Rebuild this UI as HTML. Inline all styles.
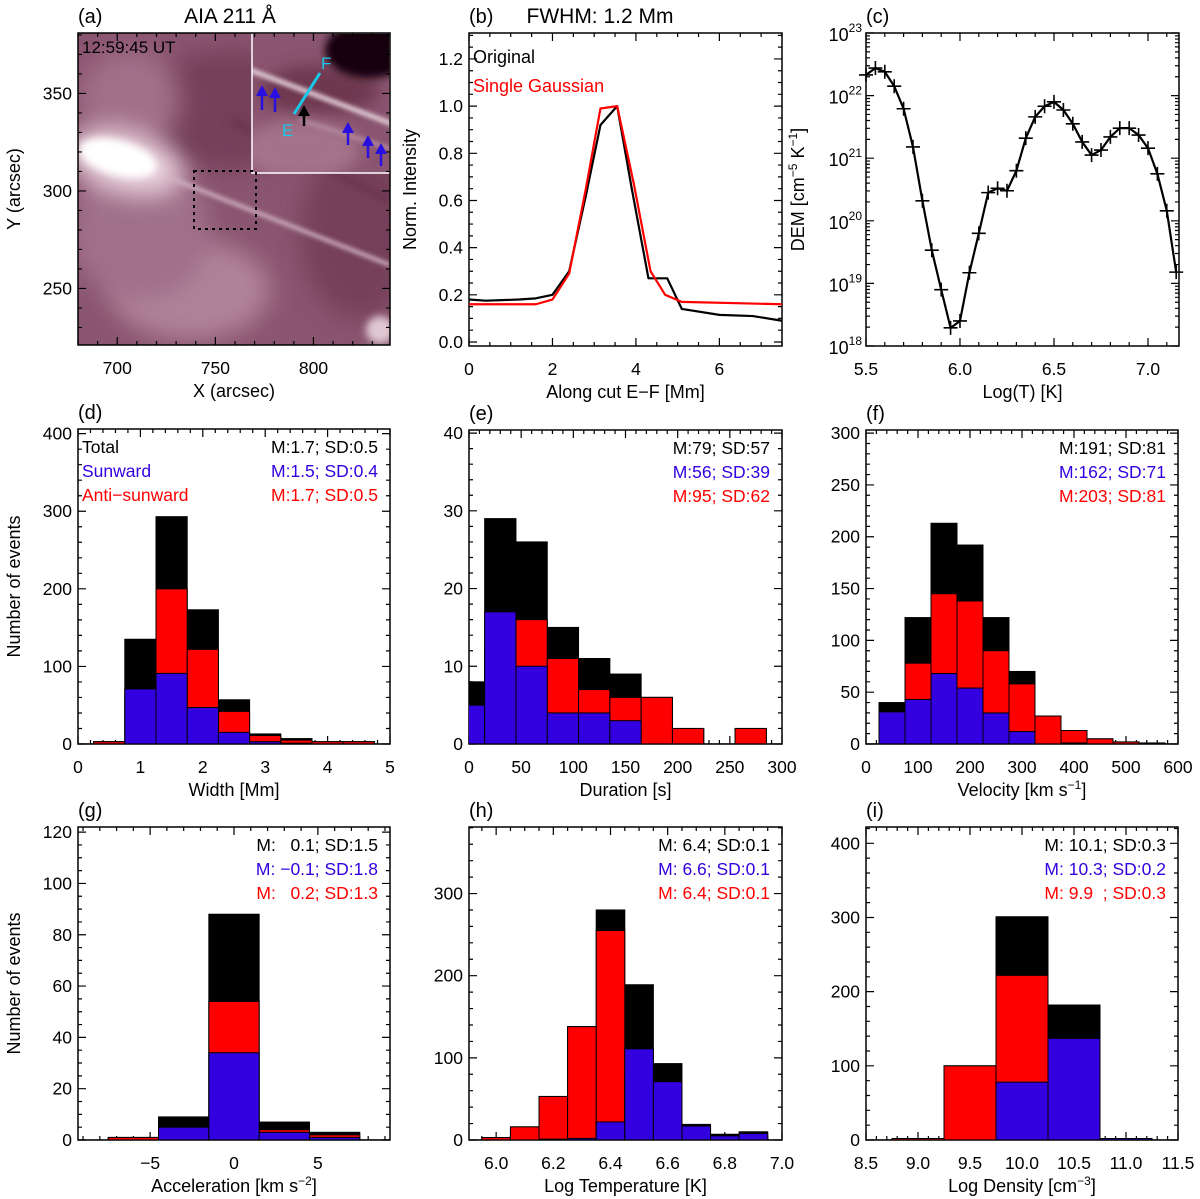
<!DOCTYPE html>
<html><head><meta charset="utf-8">
<style>
html,body{margin:0;padding:0;background:#fff;}
svg{display:block;font-family:"Liberation Sans",sans-serif;}
text{white-space:pre;}
</style></head>
<body>
<svg id="fig" width="1200" height="1199" viewBox="0 0 1200 1199" xmlns="http://www.w3.org/2000/svg">
<defs>
<filter id="blur12" filterUnits="userSpaceOnUse" x="0" y="0" width="500" height="400"><feGaussianBlur stdDeviation="12"/></filter>
<filter id="blur8" filterUnits="userSpaceOnUse" x="0" y="0" width="500" height="400"><feGaussianBlur stdDeviation="8"/></filter>
<filter id="blur4" filterUnits="userSpaceOnUse" x="0" y="0" width="500" height="400"><feGaussianBlur stdDeviation="4"/></filter>
<filter id="blur2" filterUnits="userSpaceOnUse" x="0" y="0" width="500" height="400"><feGaussianBlur stdDeviation="2"/></filter>
<clipPath id="clipA"><rect x="78" y="33" width="312" height="312"/></clipPath>
<clipPath id="clipInset"><rect x="252" y="33" width="138" height="140"/></clipPath>
</defs>

<!-- Panel (a) image -->
<g clip-path="url(#clipA)">
  <rect x="78" y="33" width="312" height="312" fill="#8a5570"/>
  <ellipse cx="230" cy="110" rx="90" ry="60" fill="#74405a" filter="url(#blur12)"/>
  <ellipse cx="360" cy="230" rx="60" ry="90" fill="#76405a" filter="url(#blur12)"/>
  <ellipse cx="190" cy="290" rx="80" ry="50" fill="#b08299" filter="url(#blur12)"/>
  <ellipse cx="140" cy="230" rx="70" ry="70" fill="#a0708a" filter="url(#blur12)"/>
  <ellipse cx="130" cy="100" rx="50" ry="50" fill="#a27089" filter="url(#blur12)"/>
  <ellipse cx="125" cy="162" rx="60" ry="32" fill="#e6cdd8" transform="rotate(15 125 162)" filter="url(#blur12)"/>
  <ellipse cx="118" cy="158" rx="40" ry="18" fill="#ffffff" transform="rotate(15 118 158)" filter="url(#blur4)"/>
  <line x1="170" y1="178" x2="390" y2="265" stroke="#cfb0bf" stroke-width="4" filter="url(#blur2)"/>
  <line x1="230" y1="120" x2="390" y2="200" stroke="#6a3550" stroke-width="8" filter="url(#blur4)"/>
  <ellipse cx="380" cy="330" rx="14" ry="14" fill="#e0c8d2" filter="url(#blur4)"/>
</g>
<g clip-path="url(#clipInset)">
  <rect x="252" y="33" width="138" height="140" fill="#8a5570"/>
  <ellipse cx="320" cy="90" rx="60" ry="25" fill="#6e3850" filter="url(#blur8)"/>
  <ellipse cx="370" cy="50" rx="45" ry="28" fill="#150508" filter="url(#blur4)"/>
  <ellipse cx="300" cy="150" rx="60" ry="30" fill="#a47389" filter="url(#blur8)"/>
  <line x1="250" y1="70" x2="395" y2="125" stroke="#e2cdd6" stroke-width="5" filter="url(#blur2)"/>
  <line x1="300" y1="120" x2="395" y2="150" stroke="#b68ca0" stroke-width="4" filter="url(#blur2)"/>
</g>
<rect x="252" y="33" width="138" height="140" fill="none" stroke="#fff" stroke-width="1.5"/>
<g fill="#2a10e0" stroke="#2a10e0" stroke-width="2.5">
  <line x1="262" y1="110" x2="262" y2="93"/><polygon points="256,96 262,85 268,96" stroke="none"/>
  <line x1="275" y1="112" x2="275" y2="95"/><polygon points="269,98 275,87 281,98" stroke="none"/>
  <line x1="348" y1="145" x2="348" y2="130"/><polygon points="342,133 348,122 354,133" stroke="none"/>
  <line x1="368" y1="158" x2="368" y2="143"/><polygon points="362,146 368,135 374,146" stroke="none"/>
  <line x1="381" y1="166" x2="381" y2="151"/><polygon points="375,154 381,143 387,154" stroke="none"/>
</g>
<g>
  <line x1="304" y1="126" x2="304" y2="113" stroke="#000" stroke-width="2.5"/><polygon points="298,116 304,105 310,116" fill="#000"/>
</g>
<line x1="294" y1="114" x2="320" y2="73" stroke="#18c8e8" stroke-width="3"/>
<text x="321" y="69" fill="#18c8e8" font-size="17">F</text>
<text x="282" y="136" fill="#18c8e8" font-size="17">E</text>
<text x="82" y="53" font-size="17" fill="#000">12:59:45 UT</text>
<rect x="194" y="171" width="62" height="58" fill="none" stroke="#000" stroke-width="2" stroke-dasharray="3,4"/>

<g id="plots"></g>
</svg>

<script>
// ---------- DATA ----------
// Panel (b)
const bOrigX = [0,0.4,1.2,1.6,2.0,2.4,2.8,3.15,3.55,3.9,4.3,4.75,5.1,6.0,6.8,7.5];
const bOrigY = [0.18,0.175,0.18,0.185,0.2,0.3,0.62,0.92,1.0,0.65,0.27,0.27,0.14,0.115,0.11,0.09];
const bGaussX = [0,1.6,2.0,2.4,2.8,3.15,3.55,3.95,4.35,4.7,5.1,7.5];
const bGaussY = [0.16,0.16,0.18,0.29,0.65,0.99,1.0,0.67,0.3,0.2,0.17,0.16];
// Panel (c) DEM, log10 values at logT 5.50..7.15 step 0.05
const cLogT = [5.50,5.55,5.60,5.65,5.70,5.75,5.80,5.85,5.90,5.95,6.00,6.05,6.10,6.15,6.20,6.25,6.30,6.35,6.40,6.45,6.50,6.55,6.60,6.65,6.70,6.75,6.80,6.85,6.90,6.95,7.00,7.05,7.10,7.15];
const cLogDEM = [22.33,22.44,22.38,22.15,21.79,21.18,20.32,19.53,18.9,18.29,18.4,19.17,19.8,20.45,20.52,20.48,20.8,21.32,21.66,21.83,21.9,21.77,21.55,21.26,21.05,21.13,21.34,21.48,21.48,21.37,21.16,20.75,20.16,19.18];
// Histograms: bin centres, totals, anti-sunward (red), sunward (blue)
const dBins = [0.5,1.0,1.5,2.0,2.5,3.0,3.5,4.0,4.5];
const dTotal = [3,135,293,173,57,13,7,3,3];
const dAnti = [3,64,200,122,42,11,5,3,3];
const dSun = [0,71,91,47,15,3,1,0,0];
const eBins = [0,30,60,90,120,150,180,210,240,270];
const eTotal = [8,29,26,15,11,9,6,2,0,2];
const eAnti = [3,12,16,11,7,6,6,2,0,2];
const eSun = [5,17,10,4,4,3,0,0,0,0];
const fBins = [50,100,150,200,250,300,350,400,450,500,550];
const fTotal = [40,122,213,192,122,70,27,13,5,2,1];
const fAnti = [9,78,145,138,90,58,27,13,5,2,1];
const fSun = [31,43,68,54,30,12,0,1,0,0,0];
const gBins = [-6,-3,0,3,6];
const gTotal = [1,9,88,7,3];
const gAnti = [1,4,54,4,2];
const gSun = [0,5,34,3,1];
const hBins = [6.0,6.1,6.2,6.3,6.4,6.5,6.6,6.7,6.8,6.9];
const hTotal = [3,16,53,138,280,189,93,19,7,10];
const hAnti = [3,16,53,138,255,78,22,2,2,2];
const hSun = [0,0,1,2,22,111,71,17,5,8];
const iBins = [9.0,9.5,10.0,10.5,11.0];
const iTotal = [2,100,301,182,2];
const iAnti = [2,100,222,45,0];
const iSun = [0,0,78,137,2];

// ---------- HELPERS ----------
const NS = "http://www.w3.org/2000/svg";
const root = document.getElementById('plots');
function mk(tag, attrs, parent){
  const e = document.createElementNS(NS, tag);
  for (const k in attrs) e.setAttribute(k, attrs[k]);
  (parent||root).appendChild(e);
  return e;
}
function scale(d0,d1,r0,r1){ return v => r0 + (v-d0)/(d1-d0)*(r1-r0); }

function axes(fr, xd, yd, xt, yt, opt){
  const g = mk('g',{});
  
  
  const sx = scale(xd[0],xd[1],fr.x0,fr.x1), sy = scale(yd[0],yd[1],fr.y1,fr.y0);
  let p = '';
  const M = 8, m = 4;
  xt.major.forEach(v=>{const x=sx(v); if(x<fr.x0-0.5||x>fr.x1+0.5) return; p+=`M${x},${fr.y1}v${-M}M${x},${fr.y0}v${M}`;});
  xt.minor.forEach(v=>{const x=sx(v); if(x<fr.x0-0.5||x>fr.x1+0.5) return; p+=`M${x},${fr.y1}v${-m}M${x},${fr.y0}v${m}`;});
  const yMaj = yt.major.map(sy);
  const yMin = yt.minor.map(sy);
  yMaj.forEach(y=>{ if(y<fr.y0-0.5||y>fr.y1+0.5) return; p+=`M${fr.x0},${y}h${M}M${fr.x1},${y}h${-M}`;});
  yMin.forEach(y=>{ if(y<fr.y0-0.5||y>fr.y1+0.5) return; p+=`M${fr.x0},${y}h${m}M${fr.x1},${y}h${-m}`;});
  mk('path',{d:p,stroke:'#000','stroke-width':1.2,fill:'none'},g);
  mk('rect',{x:fr.x0,y:fr.y0,width:fr.x1-fr.x0,height:fr.y1-fr.y0,fill:'none',stroke:'#000','stroke-width':1.5},g);
  xt.major.forEach((v,i)=>{
    const t = mk('text',{x:sx(v),y:fr.y1+29,'text-anchor':'middle','font-size':17.5,fill:'#000'},g);
    t.textContent = xt.labels[i];
    
    
  });
  if(!opt.customY){
    yt.major.forEach((v,i)=>{
      const t = mk('text',{x:fr.x0-6,y:sy(v)+6,'text-anchor':'end','font-size':17.5,fill:'#000'},g);
      t.textContent = yt.labels[i];
      
      
    });
  }
  const xl = mk('text',{x:(fr.x0+fr.x1)/2,y:fr.y1+52,'text-anchor':'middle','font-size':18,fill:'#000'},g);
  xl.innerHTML = opt.xlabel;
  
  
  if(opt.ylabel){
    const yx = opt.ylx, yy=(fr.y0+fr.y1)/2;
    const yl = mk('text',{x:yx,y:yy,'text-anchor':'middle','font-size':18,fill:'#000',transform:`rotate(-90 ${yx} ${yy})`},g);
    yl.innerHTML = opt.ylabel;
    
    
  }
  const pl = mk('text',{x:fr.x0,y:fr.y0-10,'font-size':20,fill:'#000'},g);
  pl.textContent = opt.panel;
  
  
  return {sx,sy};
}
function range(a,b,s){const r=[];for(let v=a;v<=b+1e-9;v+=s)r.push(+v.toFixed(6));return r;}

let clipId = 0;
function hist(fr, xd, yd, bins, bw, tot, anti, sun, name){
  const sx = scale(xd[0],xd[1],fr.x0,fr.x1), sy = scale(yd[0],yd[1],fr.y1,fr.y0);
  const cid = 'hc'+(clipId++);
  const cp = mk('clipPath',{id:cid});
  mk('rect',{x:fr.x0,y:fr.y0,width:fr.x1-fr.x0,height:fr.y1-fr.y0},cp);
  const g = mk('g',{'clip-path':`url(#${cid})`});
  
  
  const series = [[tot,'#000','total'],[anti,'#ff0000','anti-sunward'],[sun,'#3300e0','sunward']];
  series.forEach(([arr,col,sn])=>{
    bins.forEach((c,i)=>{
      if(!arr[i]) return;
      const x0 = sx(c-bw/2), x1 = sx(c+bw/2), y = sy(arr[i]);
      const r = mk('rect',{x:x0,y:y,width:x1-x0,height:sy(0)-y,fill:col,stroke:'#000','stroke-width':1},g);
      
      
    });
  });
  mk('line',{x1:fr.x0,x2:fr.x1,y1:sy(0),y2:sy(0),stroke:'#000','stroke-width':1.2},g);
}
function stats(fr, lines, legend){
  const g = mk('g',{});
  
  
  const cols = ['#000','#3300e0','#ff0000'];
  lines.forEach((s,i)=>{
    const t = mk('text',{x:fr.x1-12,y:fr.y0+24+i*24,'text-anchor':'end','font-size':17.5,fill:cols[i]},g);
    t.textContent = s;
    
    
  });
  if(legend){
    ['Total','Sunward','Anti\u2212sunward'].forEach((s,i)=>{
      const t = mk('text',{x:fr.x0+4,y:fr.y0+24+i*24,'font-size':17.5,fill:cols[i]},g);
      t.textContent = s;
      
      
    });
  }
}

// ---------- PANEL A axes ----------
(function(){
  const fr={x0:78,y0:33,x1:390,y1:345};
  axes(fr,[680,839],[221,381],
    {major:[700,750,800],minor:range(680,830,10),labels:['700','750','800']},
    {major:[250,300,350],minor:range(230,380,10),labels:['250','300','350']},
    {name:'panel-a',xlabel:'X (arcsec)',ylabel:'Y (arcsec)',ylx:20,panel:'(a)'});
  const t = mk('text',{x:230,y:23,'text-anchor':'middle','font-size':21,fill:'#000'});
  t.textContent='AIA 211 Å';
  
  
})();

// ---------- PANEL B ----------
(function(){
  const fr={x0:469,y0:33,x1:782,y1:346};
  const {sx,sy} = axes(fr,[0,7.5],[-0.017,1.31],
    {major:[0,2,4,6],minor:range(0,7.5,0.5),labels:['0','2','4','6']},
    {major:[0,0.2,0.4,0.6,0.8,1.0,1.2],minor:range(0,1.3,0.05),labels:['0.0','0.2','0.4','0.6','0.8','1.0','1.2']},
    {name:'panel-b',xlabel:'Along cut E\u2212F [Mm]',ylabel:'Norm. Intensity',ylx:416,panel:'(b)'});
  const line=(xs,ys,col,n)=>{
    const p = mk('polyline',{points:xs.map((x,i)=>sx(x)+','+sy(ys[i])).join(' '),fill:'none',stroke:col,'stroke-width':2.2,'stroke-linejoin':'round'});
    
    
  };
  line(bOrigX,bOrigY,'#000','original-profile-line');
  line(bGaussX,bGaussY,'#ff0000','gaussian-fit-line');
  const t1 = mk('text',{x:473,y:63,'font-size':18,fill:'#000'}); t1.textContent='Original';
  
  
  const t2 = mk('text',{x:473,y:92,'font-size':18,fill:'#ff0000'}); t2.textContent='Single Gaussian';
  
  
  const t = mk('text',{x:600,y:23,'text-anchor':'middle','font-size':21,fill:'#000'});
  t.textContent='FWHM: 1.2 Mm';
  
  
})();

// ---------- PANEL C ----------
(function(){
  const fr={x0:866,y0:33,x1:1179,y1:346};
  const ymaj=[18,19,20,21,22,23], ymin=[];
  for(let d=18; d<23; d++) for(let k=2;k<=9;k++) ymin.push(d+Math.log10(k));
  const {sx,sy} = axes(fr,[5.5,7.165],[18,23],
    {major:[5.5,6.0,6.5,7.0],minor:range(5.5,7.15,0.1),labels:['5.5','6.0','6.5','7.0']},
    {major:ymaj,minor:ymin,labels:[]},
    {name:'panel-c',xlabel:'Log(T) [K]',ylabel:'DEM [cm<tspan dy="-7" font-size="12">\u22125</tspan><tspan dy="7"> K</tspan><tspan dy="-7" font-size="12">\u22121</tspan><tspan dy="7">]</tspan>',ylx:804,panel:'(c)',customY:true});
  ymaj.forEach(v=>{
    const t = mk('text',{x:fr.x0-4,y:sy(v)+8,'text-anchor':'end','font-size':18,fill:'#000'});
    t.innerHTML = `10<tspan dy="-9" font-size="12">${v}</tspan>`;
    
    
  });
  const p = mk('polyline',{points:cLogT.map((x,i)=>sx(x)+','+sy(cLogDEM[i])).join(' '),fill:'none',stroke:'#000','stroke-width':2.2,'stroke-linejoin':'round'});
  
  
  let d='';
  cLogT.forEach((x,i)=>{const X=sx(x),Y=sy(cLogDEM[i]); d+=`M${X-7},${Y}h14M${X},${Y-7}v14`;});
  const mkp = mk('path',{d:d,stroke:'#000','stroke-width':1.6,fill:'none'});
  
  
})();

// ---------- HISTOGRAMS ----------
(function(){
  let fr={x0:78,y0:429,x1:390,y1:744};
  axes(fr,[0,5],[0,406],
    {major:[0,1,2,3,4,5],minor:range(0,5,0.2),labels:['0','1','2','3','4','5']},
    {major:[0,100,200,300,400],minor:range(0,400,20),labels:['0','100','200','300','400']},
    {name:'panel-d',xlabel:'Width [Mm]',ylabel:'Number of events',ylx:20,panel:'(d)'});
  hist(fr,[0,5],[0,406],dBins,0.5,dTotal,dAnti,dSun,'panel-d');
  stats(fr,['M:1.7; SD:0.5','M:1.5; SD:0.4','M:1.7; SD:0.5'],true);

  fr={x0:469,y0:430,x1:782,y1:744};
  axes(fr,[0,300],[0,40.4],
    {major:[0,50,100,150,200,250,300],minor:range(0,300,10),labels:['0','50','100','150','200','250','300']},
    {major:[0,10,20,30,40],minor:range(0,40,2),labels:['0','10','20','30','40']},
    {name:'panel-e',xlabel:'Duration [s]',panel:'(e)'});
  hist(fr,[0,300],[0,40.4],eBins,30,eTotal,eAnti,eSun,'panel-e');
  stats(fr,['M:79; SD:57','M:56; SD:39','M:95; SD:62'],false);

  fr={x0:866,y0:430,x1:1178,y1:744};
  axes(fr,[0,600],[0,303],
    {major:[0,100,200,300,400,500,600],minor:range(0,600,20),labels:['0','100','200','300','400','500','600']},
    {major:[0,50,100,150,200,250,300],minor:range(0,300,10),labels:['0','50','100','150','200','250','300']},
    {name:'panel-f',xlabel:'Velocity [km s<tspan dy="-7" font-size="12">\u22121</tspan><tspan dy="7">]</tspan>',panel:'(f)'});
  hist(fr,[0,600],[0,303],fBins,50,fTotal,fAnti,fSun,'panel-f');
  stats(fr,['M:191; SD:81','M:162; SD:71','M:203; SD:81'],false);

  fr={x0:78,y0:827,x1:390,y1:1140};
  axes(fr,[-9.3,9.3],[0,122],
    {major:[-5,0,5],minor:range(-9,9,1),labels:['\u22125','0','5']},
    {major:[0,20,40,60,80,100,120],minor:range(0,120,5),labels:['0','20','40','60','80','100','120']},
    {name:'panel-g',xlabel:'Acceleration [km s<tspan dy="-7" font-size="12">\u22122</tspan><tspan dy="7">]</tspan>',ylabel:'Number of events',ylx:20,panel:'(g)'});
  hist(fr,[-9.3,9.3],[0,122],gBins,3,gTotal,gAnti,gSun,'panel-g');
  stats(fr,['M:   0.1; SD:1.5','M: \u22120.1; SD:1.8','M:   0.2; SD:1.3'],false);

  fr={x0:469,y0:827,x1:782,y1:1140};
  axes(fr,[5.905,7.0],[0,381],
    {major:[6.0,6.2,6.4,6.6,6.8,7.0],minor:range(5.95,7.0,0.05),labels:['6.0','6.2','6.4','6.6','6.8','7.0']},
    {major:[0,100,200,300],minor:range(0,380,20),labels:['0','100','200','300']},
    {name:'panel-h',xlabel:'Log Temperature [K]',panel:'(h)'});
  hist(fr,[5.905,7.0],[0,381],hBins,0.1,hTotal,hAnti,hSun,'panel-h');
  stats(fr,['M: 6.4; SD:0.1','M: 6.6; SD:0.1','M: 6.4; SD:0.1'],false);

  fr={x0:866,y0:827,x1:1178,y1:1140};
  axes(fr,[8.5,11.5],[0,422],
    {major:[8.5,9.0,9.5,10.0,10.5,11.0,11.5],minor:range(8.5,11.5,0.1),labels:['8.5','9.0','9.5','10.0','10.5','11.0','11.5']},
    {major:[0,100,200,300,400],minor:range(0,420,20),labels:['0','100','200','300','400']},
    {name:'panel-i',xlabel:'Log Density [cm<tspan dy="-7" font-size="12">\u22123</tspan><tspan dy="7">]</tspan>',panel:'(i)'});
  hist(fr,[8.5,11.5],[0,422],iBins,0.5,iTotal,iAnti,iSun,'panel-i');
  stats(fr,['M: 10.1; SD:0.3','M: 10.3; SD:0.2','M: 9.9  ; SD:0.3'],false);
})();
</script>
</body></html>
